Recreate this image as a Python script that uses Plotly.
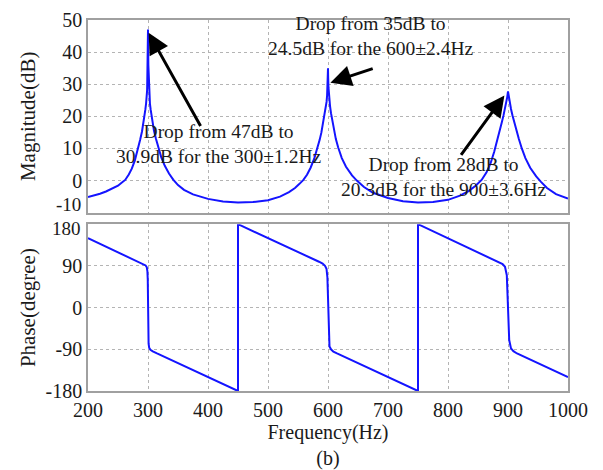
import plotly.graph_objects as go
from plotly.subplots import make_subplots

# Magnitude response
mag_freq = [200, 210, 220, 230, 240, 250, 256, 262, 268, 273, 278, 283, 287, 290, 292, 294,
            295.5, 296.8, 297.8, 298.5, 298.8, 299.4, 299.75, 300, 300.25, 300.6, 301.2, 301.5,
            302.2, 303.2, 304.5, 306, 308, 310, 313, 317, 322, 328, 335, 342, 350, 360, 375,
            400, 425, 450, 475, 500, 520, 535, 545, 552, 559, 565, 571, 577, 582, 586, 589,
            591.5, 593.5, 595, 596.5, 597.6, 598.5, 599.2, 599.7, 600, 600.3, 600.8, 601.5,
            602.4, 603.5, 605, 607, 610, 613, 617, 623, 630, 640, 648, 660, 675, 700, 725,
            750, 775, 800, 820, 835, 846, 856, 864, 871, 877, 882, 886, 889.5, 892.5, 895,
            897, 898.7, 900, 901.3, 903, 905, 907.5, 910.5, 914, 918, 923, 929, 937, 947,
            955, 965, 980, 1000]
mag_db = [-5.1, -4.7, -4.1, -3.4, -2.6, -1.6, -0.7, 0.2, 1.9, 3.7, 6.2, 9.5, 12.8, 15.3, 17.4, 20,
          22, 24, 26, 28, 30.9, 36, 42, 47, 42, 36, 30.9, 28,
          26, 24, 22, 20, 17.5, 15.5, 13.2, 10.3, 7.3, 4.6, 2.2, 0.3, -1.4, -2.9, -4.3,
          -5.7, -6.5, -6.8, -6.7, -6.1, -5.0, -3.6, -2.3, -1.1, 0.2, 1.8, 4.0, 6.8, 9.8, 12.6, 15,
          17.5, 20, 22, 23.7, 24.5, 26.5, 29, 32, 35, 32, 29, 26.5,
          24.5, 23, 21, 19, 16, 13, 10.3, 7, 4.3, 1.6, 0, -2, -3.8, -5.4, -6.4,
          -6.8, -6.7, -6.0, -4.7, -3.2, -1.6, 0.2, 2.5, 5.4, 9.0, 12.3, 15.3, 18, 20.3, 22.3,
          24, 26, 27.8, 26, 24, 22.3, 20.3, 18, 15.5, 13, 10, 7, 4, 1.3,
          -0.4, -2.3, -4.2, -5.6]

# Phase response
ph_freq = [200, 285, 292, 296, 298, 299, 299.6, 300, 300.4, 301, 302, 304, 308, 315, 450,
           450, 585, 591, 595, 597.5, 599, 600, 601, 602.5, 605, 609, 615, 750,
           750, 875, 885, 891, 895, 898, 900, 902, 905, 909, 915, 925, 1000]
ph_deg = [150, 99, 94.5, 91, 87, 78, 60, 0, -60, -78, -87, -91, -94.5, -99, -180,
          180, 99, 95, 90, 84, 65, 0, -65, -84, -90, -95, -99, -180,
          180, 105, 99, 94, 88, 70, 0, -70, -88, -94, -99, -105, -150]

mag_ticks = [-10, 0, 10, 20, 30, 40, 50]
ph_ticks = [-180, -90, 0, 90, 180]
freq_ticks = [200, 300, 400, 500, 600, 700, 800, 900, 1000]

FONT = "Liberation Serif"
BLUE = "#1414ff"
GRID = "#b4b4b4"
FRAME = "#a0a0a0"
TXT = "#1a1a1a"

fig = make_subplots(rows=2, cols=1, shared_xaxes=False, vertical_spacing=0.03)
fig.add_trace(go.Scatter(x=mag_freq, y=mag_db, mode="lines",
                         line=dict(color=BLUE, width=2), showlegend=False), row=1, col=1)
fig.add_trace(go.Scatter(x=ph_freq, y=ph_deg, mode="lines",
                         line=dict(color=BLUE, width=2), showlegend=False), row=2, col=1)

axis_common = dict(showline=True, linecolor=FRAME, linewidth=1.5, mirror=True,
                   showgrid=True, gridcolor=GRID, griddash="dot", gridwidth=1,
                   zeroline=False, ticks="", tickfont=dict(family=FONT, size=20, color=TXT))

fig.update_xaxes(range=[200, 1000], tickvals=freq_ticks, showticklabels=False,
                 domain=[0, 1], **axis_common, row=1, col=1)
fig.update_xaxes(range=[200, 1000], tickvals=freq_ticks,
                 ticktext=[str(v) for v in freq_ticks],
                 title=dict(text="Frequency(Hz)<br>(b)", font=dict(family=FONT, size=20, color=TXT),
                            standoff=0),
                 **axis_common, row=2, col=1)
fig.update_yaxes(range=[-10, 50], tickvals=mag_ticks,
                 ticktext=["" if v == -10 else str(v) for v in mag_ticks],
                 domain=[0.4806, 1],
                 title=dict(text="Magnitude(dB)", font=dict(family=FONT, size=21, color=TXT),
                            standoff=21),
                 **axis_common, row=1, col=1)
fig.update_yaxes(range=[-180, 180], tickvals=ph_ticks,
                 ticktext=["" if v == 180 else str(v) for v in ph_ticks],
                 domain=[0, 0.4496],
                 title=dict(text="Phase(degree)", font=dict(family=FONT, size=21, color=TXT),
                            standoff=4),
                 **axis_common, row=2, col=1)

# "-10" and "180" labels placed as in the reference (nudged apart)
fig.add_annotation(x=0, xref="paper", xanchor="right", xshift=-5,
                   y=mag_ticks[0], yref="y", yanchor="middle", yshift=8,
                   text=str(mag_ticks[0]), showarrow=False,
                   font=dict(family=FONT, size=19, color=TXT))
fig.add_annotation(x=0, xref="paper", xanchor="right", xshift=-5,
                   y=ph_ticks[-1], yref="y2", yanchor="middle", yshift=-4,
                   text=str(ph_ticks[-1]), showarrow=False,
                   font=dict(family=FONT, size=19, color=TXT))

afont = dict(family=FONT, size=19.5, color=TXT)
arrow = dict(showarrow=True, arrowhead=2, arrowsize=1.4, arrowwidth=3, arrowcolor="black",
             axref="x", ayref="y", xref="x", yref="y")

# Arrows
fig.add_annotation(x=301, y=46, ax=389, ay=16.5, text="", **arrow)
fig.add_annotation(x=604, y=30.5, ax=677, ay=35, text="", **arrow)
fig.add_annotation(x=894, y=26.5, ax=820, ay=7.5, text="", **arrow)

# Texts
fig.add_annotation(x=417, y=11.5, text="Drop from 47dB to<br>30.9dB for the 300±1.2Hz",
                   showarrow=False, font=afont, xref="x", yref="y", align="center")
fig.add_annotation(x=670, y=45.0, text="Drop from 35dB to<br>24.5dB for the 600±2.4Hz",
                   showarrow=False, font=afont, xref="x", yref="y", align="center")
fig.add_annotation(x=792, y=1.2, text="Drop from 28dB to<br>20.3dB for the 900±3.6Hz",
                   showarrow=False, font=afont, xref="x", yref="y", align="center")

fig.update_layout(width=603, height=470, margin=dict(l=88, r=35, t=9, b=74),
                  paper_bgcolor="white", plot_bgcolor="white",
                  font=dict(family=FONT, color=TXT))

fig.write_html("out.html")
